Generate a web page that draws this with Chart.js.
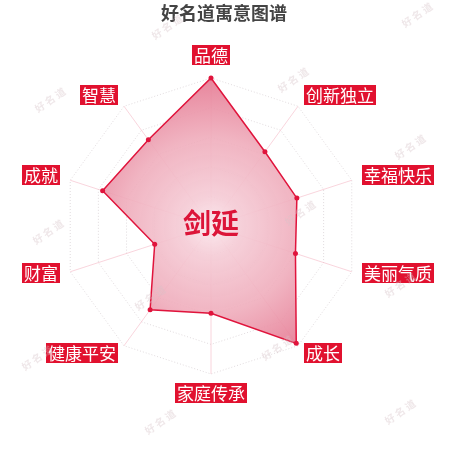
<!DOCTYPE html>
<html>
<head>
<meta charset="utf-8">
<script src="https://cdn.jsdelivr.net/npm/chart.js@4.4.1/dist/chart.umd.min.js"></script>
<style>
  html, body { margin: 0; padding: 0; background: #fff; }
  #wrap { width: 450px; height: 450px; }
</style>
</head>
<body>
<div id="wrap"><canvas id="nameChart" width="450" height="450"></canvas></div>
<script>
// Name meaning radar

const titleText = '好名道寓意图谱';
const nameText = '剑延';
const labels = ['品德', '创新独立', '幸福快乐', '美丽气质', '成长', '家庭传承', '健康平安', '财富', '成就', '智慧'];
const scores = [100, 62, 61, 60, 98, 59, 70, 40, 77, 72];
const ringStep = 20;
const scoreMax = 100;

// faint "好名道" stamps scattered over the picture
const stamps = [[167, 27], [417, 15], [50, 100], [293, 80], [410, 147], [48, 232], [300, 213],
                [400, 285], [37, 358], [277, 348], [160, 422], [400, 412], [150, 298]];

const red = '#e1112f';
const cjk = '"Noto Sans CJK SC", "Noto Sans", sans-serif';

const canvas = document.getElementById('nameChart');
const ctx = canvas.getContext('2d');

// labels, title, center name and stamps drawn on top of the chart
const decorPlugin = {
    id: 'decor',
    afterDraw(chart) {
        const c = chart.ctx;
        const s = chart.scales.r;
        c.save();

        // title
        c.font = 'bold 18px ' + cjk;
        c.fillStyle = '#444';
        c.textAlign = 'center';
        c.textBaseline = 'middle';
        c.fillText(titleText, 224, 13);

        // center name
        c.font = 'bold 28px ' + cjk;
        c.fillStyle = '#dc1438';
        c.fillText(nameText, s.xCenter, s.yCenter - 3);

        // axis names in red boxes
        c.font = '17px ' + cjk;
        chart.data.labels.forEach((lab, i) => {
            const p = s.getPointPosition(i, s.drawingArea + 11);
            const dx = p.x - s.xCenter;
            const dy = p.y - s.yCenter;
            const w = c.measureText(lab).width + 4;
            const h = 20;
            let x, y;
            if (Math.abs(dx) < 1) {
                x = p.x - w / 2;
                y = dy < 0 ? p.y - h : p.y;
            } else {
                x = dx > 0 ? p.x : p.x - w;
                y = p.y - h / 2;
            }
            y -= 2;
            c.fillStyle = red;
            c.fillRect(Math.round(x), Math.round(y), Math.round(w), h);
            c.fillStyle = '#fff';
            c.textAlign = 'center';
            c.textBaseline = 'middle';
            c.fillText(lab, Math.round(x) + w / 2, Math.round(y) + h / 2 + 1);
        });

        // stamps
        c.font = 'bold 10px ' + cjk;
        c.fillStyle = 'rgba(215, 195, 200, 0.4)';
        stamps.forEach(([sx, sy]) => {
            c.save();
            c.translate(sx, sy);
            c.rotate(-0.6);
            c.fillText('好 名 道', 0, 0);
            c.restore();
        });
        c.restore();
    }
};

const chart = new Chart(ctx, {
    type: 'radar',
    data: {
        labels: labels,
        datasets: [{
            label: nameText,
            data: scores,
            fill: true,
            backgroundColor(context) {
                const s = context.chart.scales.r;
                if (!s || !context.chart.chartArea) return 'rgba(232, 140, 160, 0.8)';
                const g = context.chart.ctx.createRadialGradient(s.xCenter, s.yCenter, 0, s.xCenter, s.yCenter, s.drawingArea);
                g.addColorStop(0, 'rgba(251, 232, 237, 0.95)');
                g.addColorStop(0.2, 'rgba(245, 204, 214, 0.92)');
                g.addColorStop(0.6, 'rgba(239, 172, 187, 0.9)');
                g.addColorStop(1, 'rgba(229, 120, 145, 0.9)');
                return g;
            },
            borderColor: '#e0143c',
            borderWidth: 1.5,
            pointRadius: 2.5,
            pointBackgroundColor: '#e0143c',
            pointBorderWidth: 0,
            tension: 0
        }]
    },
    options: {
        responsive: false,
        animation: false,
        devicePixelRatio: 1,
        layout: {
            padding: { left: 63, right: 90, top: 78, bottom: 75 }
        },
        plugins: {
            legend: { display: false },
            tooltip: { enabled: false }
        },
        scales: {
            r: {
                z: 1, // draw axis lines over the filled area
                min: 0,
                max: scoreMax,
                ticks: { display: false, stepSize: ringStep },
                pointLabels: { display: false },
                grid: { color: 'rgba(200, 190, 195, 0.55)', lineWidth: 1 },
                border: { dash: [1, 2] },
                angleLines: { color: 'rgba(245, 185, 198, 0.6)', lineWidth: 1 }
            }
        }
    },
    plugins: [decorPlugin]
});
</script>
</body>
</html>
